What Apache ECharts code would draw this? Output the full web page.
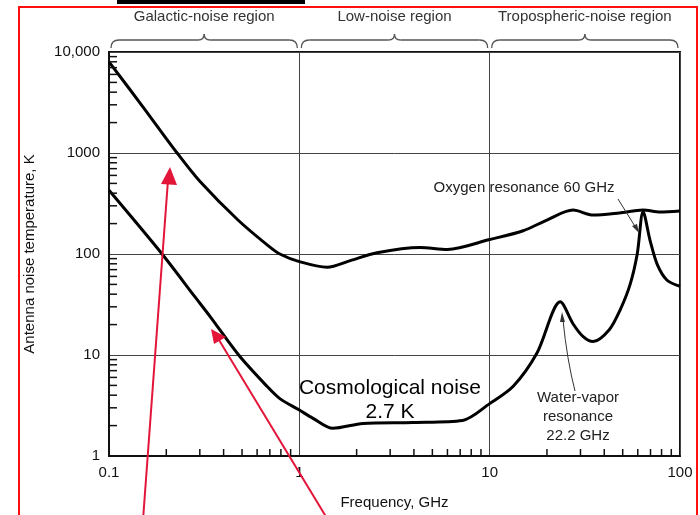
<!DOCTYPE html>
<html><head><meta charset="utf-8">
<script src="https://cdn.jsdelivr.net/npm/echarts@6/dist/echarts.min.js"></script>
<style>html,body{margin:0;padding:0;background:#fff}#c{width:700px;height:515px}</style>
</head><body><div id="c"></div>
<script>
// ---- data ----
const regionLabels = ['Galactic-noise region', 'Low-noise region', 'Tropospheric-noise region'];
const xTickValues = [0.1, 1, 10, 100];
const yTickValues = [1, 10, 100, 1000, 10000];

const upperFreq = [0.1, 0.15, 0.228, 0.30, 0.476, 0.685, 0.79, 1.0, 1.4, 1.85, 2.56, 4.3, 6.0, 10, 15, 20, 27.4, 35, 48, 64, 78.5, 100];
const upperTemp = [8000, 2900, 1000, 525, 217, 121, 100, 84, 74, 86, 103, 116, 111, 139, 170, 217, 272, 243, 255, 272, 260, 266];

const lowerFreq = [0.1, 0.19, 0.283, 0.34, 0.48, 0.676, 0.79, 1.0, 1.18, 1.5, 2.16, 3.95, 7.2, 10, 13.3, 17.7, 23.5, 27.4, 31, 35, 42.5, 48.5, 54.7, 59.6, 64, 69.7, 75.9, 85.5, 100];
const lowerTemp = [427, 100, 37.6, 24, 10, 4.9, 3.7, 2.85, 2.36, 1.88, 2.1, 2.15, 2.25, 3.3, 4.9, 10.4, 33.6, 20.4, 15.2, 13.6, 17.8, 28, 50, 100, 262, 135, 79, 55, 48];

const FONT = '"Liberation Sans", Arial, sans-serif';

const chart = echarts.init(document.getElementById('c'), null, {renderer: 'canvas'});

const zip = (a, b) => a.map((v, i) => [v, b[i]]);

chart.setOption({
  animation: false,
  backgroundColor: '#fff',
  grid: {left: 109, right: 20, top: 52, bottom: 54, show: true, borderColor: '#111', borderWidth: 2, backgroundColor: 'transparent'},
  xAxis: {
    type: 'log', logBase: 10, min: 0.1, max: 100,
    axisLine: {lineStyle: {color: '#111', width: 2}},
    axisTick: {show: false},
    minorTick: {show: false},
    splitLine: {show: true, lineStyle: {color: '#444', width: 1}},
    axisLabel: {
      fontSize: 15, color: '#111', fontFamily: FONT, margin: 9,
      formatter: v => { const i = xTickValues.findIndex(t => Math.abs(Math.log10(t) - Math.log10(v)) < 1e-6); return i >= 0 ? String(xTickValues[i]) : ''; }
    },
    name: 'Frequency, GHz', nameLocation: 'middle', nameGap: 39,
    nameTextStyle: {fontSize: 15, color: '#111', fontFamily: FONT}
  },
  yAxis: {
    type: 'log', logBase: 10, min: 1, max: 10000,
    axisLine: {lineStyle: {color: '#111', width: 2}},
    axisTick: {show: false},
    splitLine: {show: true, lineStyle: {color: '#444', width: 1}},
    axisLabel: {
      fontSize: 15, color: '#111', fontFamily: FONT, margin: 9,
      formatter: v => { const r = Math.round(v); return r === 10000 ? '10,000' : String(r); }
    },
    name: 'Antenna noise temperature, K', nameLocation: 'middle', nameGap: 72,
    nameTextStyle: {fontSize: 15, color: '#111', fontFamily: FONT}
  },
  series: [
    {type: 'line', data: zip(upperFreq, upperTemp), showSymbol: false, smooth: 0.3, lineStyle: {color: '#000', width: 3}, z: 5},
    {type: 'line', data: zip(lowerFreq, lowerTemp), showSymbol: false, smooth: 0.3, lineStyle: {color: '#000', width: 3}, z: 5}
  ]
});

// ---- decorations computed from the axes ----
const px = (x, y) => chart.convertToPixel({gridIndex: 0}, [x, y]);
const g = [];
const x0 = px(0.1, 1)[0], yB = px(0.1, 1)[1];
// minor ticks
[0.1, 1, 10].forEach(d => { for (let m = 2; m <= 9; m++) { const p = px(d * m, 1); g.push({type: 'line', shape: {x1: p[0], y1: yB, x2: p[0], y2: yB - 7}, style: {stroke: '#111', lineWidth: 1.5}, z: 10}); } });
[1, 10, 100, 1000].forEach(d => { for (let m = 2; m <= 9; m++) { const p = px(0.1, d * m); g.push({type: 'line', shape: {x1: x0, y1: p[1], x2: x0 + 8, y2: p[1]}, style: {stroke: '#111', lineWidth: 1.5}, z: 10}); } });

// braces + region labels
const BR = {stroke: '#555', fill: null, lineWidth: 1.3};
const qb = (xa, ya, cx, cy, xb, yb) => ({type: 'bezierCurve', shape: {x1: xa, y1: ya, x2: xb, y2: yb, cpx1: cx, cpy1: cy}, style: Object.assign({}, BR), z: 10});
const ln = (xa, ya, xb, yb) => ({type: 'line', shape: {x1: xa, y1: ya, x2: xb, y2: yb}, style: Object.assign({}, BR), z: 10});
const decades = [[0.1, 1], [1, 10], [10, 100]];
decades.forEach((dd, i) => {
  const a = px(dd[0], 1)[0] + 2, b = px(dd[1], 1)[0] - 2, c = (a + b) / 2;
  const yl = 40, ye = 48, yp = 34;
  g.push(qb(a, ye, a, yl, a + 8, yl));
  g.push(ln(a + 8, yl, c - 6, yl));
  g.push(qb(c - 6, yl, c, yl, c, yp));
  g.push(qb(c, yp, c, yl, c + 6, yl));
  g.push(ln(c + 6, yl, b - 8, yl));
  g.push(qb(b - 8, yl, b, yl, b, ye));
  g.push({type: 'text', x: c, y: 17, style: {text: regionLabels[i], font: '15px ' + FONT, fill: '#333', align: 'center', verticalAlign: 'middle'}, z: 10});
});

// annotation texts
const txt = (x, y, s, size, fill, lh) => ({type: 'text', x, y, style: {text: s, font: size + 'px ' + FONT, fill, lineHeight: lh || size + 3, align: 'center', verticalAlign: 'middle'}, z: 12});
g.push(txt(524, 188, 'Oxygen resonance 60 GHz', 15, '#222'));
g.push(txt(578, 417, 'Water-vapor\nresonance\n22.2 GHz', 15, '#222', 19));
g.push(txt(390, 400, 'Cosmological noise\n2.7 K', 21, '#000', 24));

// black arrows
g.push({type: 'line', shape: {x1: 618, y1: 199, x2: 636, y2: 228}, style: {stroke: '#333', lineWidth: 1}, z: 12});
g.push({type: 'polygon', shape: {points: [[639, 233], [632, 226], [637, 224]]}, style: {fill: '#333'}, z: 12});
g.push({type: 'bezierCurve', shape: {x1: 575, y1: 391, cpx1: 567, cpy1: 360, x2: 563, y2: 320}, style: {stroke: '#333', fill: null, lineWidth: 1}, z: 12});
g.push({type: 'polygon', shape: {points: [[562, 312], [560, 322], [565, 322]]}, style: {fill: '#333'}, z: 12});

// red arrows
const RED = '#e3163a';
g.push({type: 'line', shape: {x1: 143, y1: 520, x2: 168, y2: 180}, style: {stroke: RED, lineWidth: 2}, z: 15});
g.push({type: 'polygon', shape: {points: [[170, 167], [161, 184], [177, 185]]}, style: {fill: RED}, z: 15});
g.push({type: 'line', shape: {x1: 328, y1: 520, x2: 219, y2: 340}, style: {stroke: RED, lineWidth: 2}, z: 15});
g.push({type: 'polygon', shape: {points: [[211, 329], [214, 344], [226, 337]]}, style: {fill: RED}, z: 15});

// red frame and black bar
g.push({type: 'rect', shape: {x: 19, y: 7, width: 678, height: 530}, style: {stroke: '#ff1010', fill: null, lineWidth: 2}, z: 20});
g.push({type: 'rect', shape: {x: 117, y: 0, width: 188, height: 4}, style: {fill: '#000'}, z: 20});

chart.setOption({graphic: {elements: g}});
</script></body></html>
